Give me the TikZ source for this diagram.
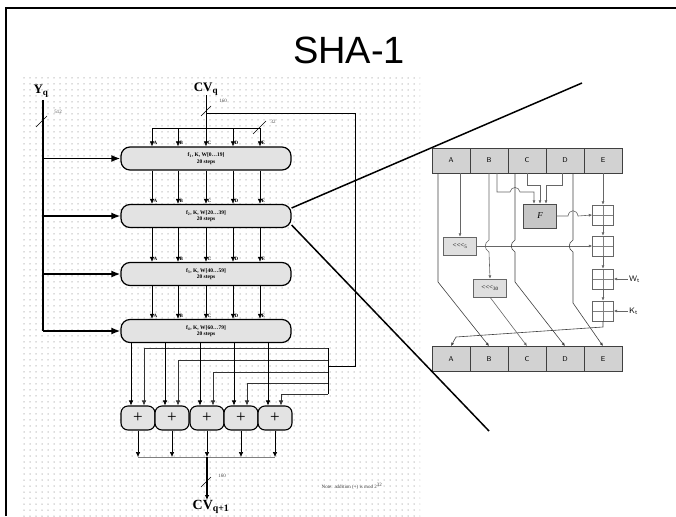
\documentclass[tikz,border=0pt]{standalone}
\usepackage{fontspec}
\setmainfont{Liberation Serif}
\newfontfamily\titlefont{Liberation Sans}
\usetikzlibrary{arrows.meta,patterns.meta}
\begin{document}
\begin{tikzpicture}[x=1pt,y=-1pt,
  frameline/.style={line width=2pt},
  stage/.style={draw, line width=1.2pt, rounded corners=9pt, fill=gray!22, minimum width=170pt, minimum height=23pt, inner sep=0pt, align=center, font=\fontsize{5.5}{6.5}\selectfont\bfseries},
  adder/.style={draw, line width=1.1pt, rounded corners=7pt, fill=gray!22, minimum width=34pt, minimum height=24pt, inner sep=0pt, font=\fontsize{17}{17}\selectfont},
  arr/.style={-{Latex[length=5pt,width=4.5pt]}, line width=0.6pt},
  bigarr/.style={-{Latex[length=9pt,width=7pt]}, line width=1.6pt},
  lbl/.style={font=\fontsize{5}{5}\selectfont\bfseries, inner sep=0.5pt},
  tiny/.style={font=\fontsize{5}{5}\selectfont, inner sep=0.5pt, text=black!70},
  reg/.style={draw=black!75, line width=0.8pt, fill=gray!35, minimum width=38pt, minimum height=25pt, inner sep=0pt, font=\fontsize{7}{7}\selectfont\sffamily},
  rline/.style={draw=black!60, line width=0.6pt},
  rarr/.style={rline, -{Latex[length=3.5pt,width=3pt]}},
  rotbox/.style={draw=black!60, fill=gray!25, minimum width=33pt, minimum height=18pt, inner sep=0pt, font=\fontsize{7}{7}\selectfont},
  fbox/.style={draw=black!70, fill=gray!45, minimum width=33pt, minimum height=24pt, inner sep=0pt, font=\fontsize{9}{9}\selectfont\itshape},
  padd/.style={draw=black!60, minimum width=21pt, minimum height=20pt, inner sep=0pt, path picture={\draw[black!50] (path picture bounding box.north) -- (path picture bounding box.south); \draw[black!50] (path picture bounding box.west) -- (path picture bounding box.east);}},
  zoomline/.style={line width=1.5pt}
]
\useasboundingbox (0,0) rectangle (676,516);
\fill[pattern={Dots[distance=6pt,radius=0.75pt]}, pattern color=gray!55] (22,77) rectangle (420,516);
\draw[frameline] (6,516) -- (6,8) -- (676,8);
\node[font=\titlefont\fontsize{38}{38}\selectfont] (title) at (349,50) {SHA-1};

% ---------- left panel ----------
\foreach \i/\y/\f/\r in {1/158.5/1/0\ldots19, 2/216/2/20\ldots39, 3/274/3/40\ldots59, 4/331/4/60\ldots79}
  \node[stage] (s\i) at (206,\y) {f\textsubscript{\f}, K, W[\r]\\20 steps};

\node[font=\fontsize{13}{13}\selectfont\bfseries, inner sep=0pt] (yq) at (41,91) {Y\textsubscript{q}};
\node[font=\fontsize{13}{13}\selectfont\bfseries, inner sep=0pt] (cvq) at (206,89) {CV\textsubscript{q}};
\coordinate (ytop) at (43,100);
\draw[line width=2pt] (ytop) -- (ytop |- s4.west);
\foreach \i in {1,2,3,4}
  \draw[bigarr] (ytop |- s\i.west) -- (s\i.west);
\draw (36,127) -- (47,116);
\node[tiny] (l512) at (58,112) {512};

\coordinate (bus) at (206,128);
\coordinate (split) at (206,113);
\draw[line width=0.8pt] (cvq.south) -- (bus);
\draw (201,116) -- (211,106);
\node[tiny] (l160a) at (223,101) {160};
\draw[line width=1pt] (152,128) -- (260,128);
\draw (253,134) -- (266,121);
\node[tiny] (l32) at (273,122) {32};

\foreach \n/\x in {A/152,B/178,C/206,D/233,E/260} {
  \coordinate (col\n) at (\x,128);
  \draw[arr] (col\n) -- (col\n |- s1.north);
  \node[lbl, anchor=south west, xshift=1pt, yshift=1pt] (t1\n) at (col\n |- s1.north) {\n};
  \foreach \a/\b in {1/2,2/3,3/4} {
    \draw[arr] (col\n |- s\a.south) -- (col\n |- s\b.north);
    \node[lbl, anchor=south west, xshift=1pt, yshift=1pt] (t\b\n) at (col\n |- s\b.north) {\n};
  }
}

% feedback
\draw[line width=1pt] (split) -- (355,113) -- (355,366) -- (328,366);
\draw[line width=0.8pt] (328,348) -- (328,394);

% adders
\foreach \i/\x in {1/138,2/172,3/207,4/241,5/275}
  \node[adder] (p\i) at (\x,418) {+};
\foreach \i/\yy in {1/348,2/360,3/372,4/383,5/394} {
  \draw[arr] ([xshift=-7pt]p\i.north |- s4.south) -- ([xshift=-7pt]p\i.north);
  \draw[arr, black!80] (328,\yy) -| ([xshift=6pt]p\i.north);
}
\coordinate (outbus) at (207,457);
\foreach \i in {1,...,5}
  \draw[arr] (p\i.south) -- (p\i.south |- outbus);
\draw[black!50, line width=1pt] (p1.south |- outbus) -- (p5.south |- outbus);
\node[font=\fontsize{14}{14}\selectfont\bfseries, inner sep=0pt] (cvout) at (211,507) {CV\textsubscript{q+1}};
\draw[arr, line width=1.2pt] (outbus) -- (outbus |- cvout.north);
\draw (201,487) -- (211,477);
\node[tiny] (l160b) at (222,476) {160};
\node[font=\fontsize{5}{5}\selectfont, inner sep=0pt, text=black!75] (note) at (352,486) {Note: addition (+) is mod 2\textsuperscript{32}};

% ---------- right panel ----------
\foreach \n/\x in {A/451,B/489,C/527,D/565,E/603} {
  \node[reg] (t\n) at (\x,160.5) {\n};
  \node[reg] (b\n) at (\x,359) {\n};
}
\node[rotbox] (rot5) at (460,246) {<{}<{}<\textsubscript{5}};
\node[rotbox] (rot30) at (490,288) {<{}<{}<\textsubscript{30}};
\node[fbox] (F) at (540,216) {F};
\node[padd] (a1) at (603,215) {};
\node[padd] (a2) at (603,246) {};
\node[padd] (a3) at (603,279) {};
\node[padd] (a4) at (603,311) {};

% from A
\draw[rarr, black!75] (438,173) -- (438,282) -- (bB.north);
\draw[rarr] (460,173) -- (rot5.north);
\draw[rarr] (rot5.east) -- (a2.west);
% from B
\draw[rarr] (489,173) -- (489,240) .. controls (484,243) and (484,249) .. (489,252) -- (rot30.north);
\draw[rarr] (rot30.south) -- (bC.north);
\draw[rarr] (497,173) -- (497,192) -- (510,192) .. controls (511,186) and (519,186) .. (520,192) -- (534,192) -- ([xshift=-6pt]F.north);
% from C
\draw[rarr, black!75] (515,173) -- (515,240) .. controls (510,243) and (510,249) .. (515,252) -- (515,282) -- (bD.north);
\draw[rarr] (527,173) -- (527,185) -- (540,185) -- (F.north);
% from D
\draw[rarr] (562,173) -- (562,185) -- (546,185) -- ([xshift=6pt]F.north);
\draw[rarr, black!75] (573,173) -- (573,240) .. controls (568,243) and (568,249) .. (573,252) -- (573,303) -- (bE.north);
\draw[rarr] (F.east) -- (568,216) .. controls (569,209) and (577,209) .. (578,216) -- (a1.west);
% from E
\draw[rarr] (tE.south) -- (a1.north);
\draw[rarr] (a1.south) -- (a2.north);
\draw[rarr] (a2.south) -- (a3.north);
\draw[rarr] (a3.south) -- (a4.north);
\coordinate (wt) at (628,279);
\coordinate (kt) at (628,311);
\draw[rarr] (wt) -- (a3.east);
\draw[rarr] (kt) -- (a4.east);
\node[font=\fontsize{8}{8}\selectfont\sffamily, anchor=west, inner sep=1pt] (lw) at (wt) {W\textsubscript{t}};
\node[font=\fontsize{8}{8}\selectfont\sffamily, anchor=west, inner sep=1pt] (lk) at (kt) {K\textsubscript{t}};
\draw[rarr, black!75] (a4.south) -- (603,327) -- (456,337) -- (bA.north);

% zoom lines
\coordinate (zt) at (582,83);
\coordinate (zb) at (489,431);
\draw[zoomline] ([yshift=8pt]s2.east) -- (zt);
\draw[zoomline] ([yshift=-9pt]s2.east) -- (zb);
\end{tikzpicture}
\end{document}
